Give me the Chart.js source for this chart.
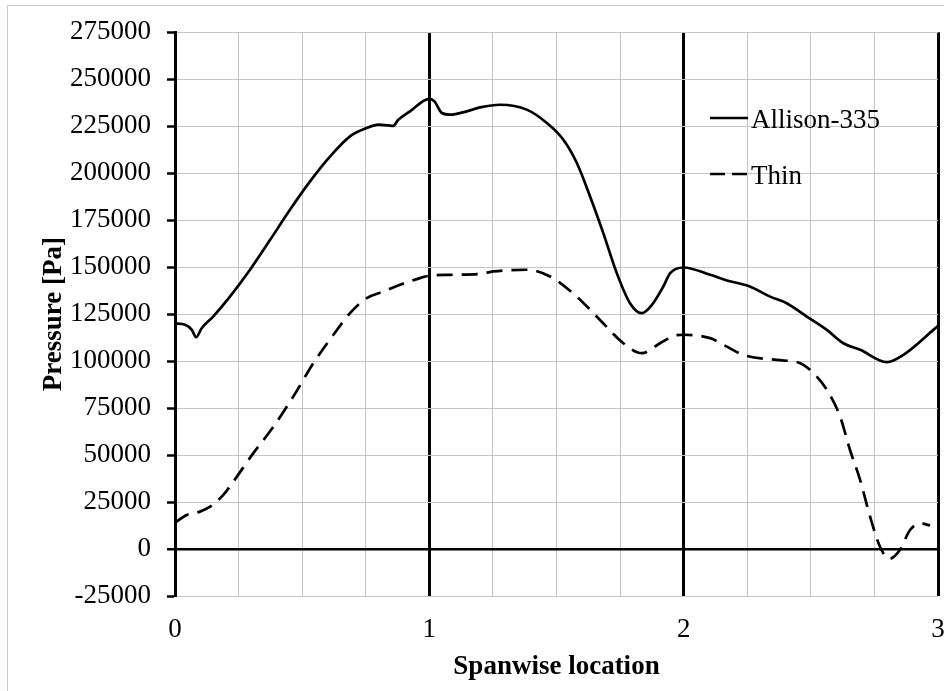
<!DOCTYPE html>
<html>
<head>
<meta charset="utf-8">
<script src="https://cdn.jsdelivr.net/npm/chart.js@4/dist/chart.umd.min.js"></script>
<style>
  html, body { margin: 0; padding: 0; background: #fff; }
  canvas { display: block; }
</style>
</head>
<body>
<canvas id="chart" width="944" height="691"></canvas>
<script>
// Spanwise pressure distribution
const allisonX = [0, 0.04, 0.066, 0.083, 0.105, 0.15, 0.216, 0.295, 0.374, 0.452, 0.531, 0.61, 0.688, 0.754, 0.8, 0.839, 0.858, 0.878, 0.924, 1.0, 1.02, 1.049, 1.081, 1.147, 1.2, 1.278, 1.383, 1.462, 1.527, 1.58, 1.632, 1.684, 1.737, 1.789, 1.835, 1.875, 1.92, 1.947, 2.0, 2.104, 2.17, 2.26, 2.34, 2.405, 2.484, 2.563, 2.628, 2.694, 2.799, 2.864, 2.982, 3.0];
const allisonY = [120000, 119300, 116600, 112700, 117500, 123700, 134300, 148600, 164500, 180500, 195600, 208900, 219600, 224000, 225800, 225400, 225200, 228400, 232900, 239500, 238200, 232000, 231100, 232900, 235000, 236400, 233800, 226700, 217800, 205400, 187600, 168100, 146800, 130800, 125500, 129900, 139700, 146800, 149800, 145900, 142900, 139700, 134300, 130800, 123700, 116600, 109500, 106000, 99400, 103300, 116600, 118700];

const thinX = [0, 0.046, 0.098, 0.138, 0.19, 0.229, 0.308, 0.387, 0.465, 0.544, 0.623, 0.688, 0.754, 0.819, 0.885, 0.95, 1.0, 1.081, 1.2, 1.252, 1.383, 1.475, 1.58, 1.671, 1.763, 1.835, 1.907, 1.96, 2.0, 2.104, 2.17, 2.235, 2.366, 2.458, 2.51, 2.563, 2.615, 2.654, 2.694, 2.733, 2.772, 2.808, 2.85, 2.89, 2.93, 2.969];
const thinY = [14000, 18100, 19900, 22500, 28800, 35800, 51000, 65100, 81100, 98900, 114000, 125500, 133500, 137000, 140600, 143600, 145400, 145900, 146400, 147700, 148600, 145000, 134300, 121900, 109500, 104200, 109500, 113400, 114000, 112200, 107700, 103300, 100600, 98900, 93600, 84700, 70500, 52700, 36700, 17200, 1200, -5200, -500, 10100, 13600, 12600];

const seriesLabels = ['Allison-335', 'Thin'];
const xTicks = { min: 0, max: 3, step: 0.25 };
const yTicks = { min: -25000, max: 275000, step: 25000 };

const FONT = "'Liberation Serif', 'Times New Roman', serif";
const GRID_GRAY = '#c4c4c4';

const toPoints = (xs, ys) => xs.map((x, i) => ({ x, y: ys[i] }));

// outer frame of the picture (only left and top edges are visible)
const framePlugin = {
  id: 'frame',
  beforeDraw(chart) {
    const ctx = chart.ctx;
    ctx.save();
    ctx.strokeStyle = '#c8c8c8';
    ctx.lineWidth = 1;
    ctx.strokeRect(7.5, 5.5, chart.width + 10, chart.height + 10);
    ctx.restore();
  },
};

// legend inside the plot, lines with labels
const legendPlugin = {
  id: 'insideLegend',
  afterDraw(chart) {
    const ctx = chart.ctx;
    const rows = [118, 174];
    ctx.save();
    chart.data.datasets.forEach((ds, i) => {
      const y = rows[i];
      ctx.strokeStyle = '#000';
      ctx.lineWidth = 2.5;
      ctx.setLineDash(ds.borderDash ? [15, 7] : []);
      ctx.beginPath();
      ctx.moveTo(710, y);
      ctx.lineTo(748, y);
      ctx.stroke();
      ctx.setLineDash([]);
      ctx.fillStyle = '#000';
      ctx.font = `27px ${FONT}`;
      ctx.textBaseline = 'middle';
      ctx.fillText(ds.label, 751, y + 3);
    });
    ctx.restore();
  },
};

new Chart(document.getElementById('chart'), {
  type: 'scatter',
  data: {
    datasets: [
      {
        label: seriesLabels[0],
        data: toPoints(allisonX, allisonY),
        showLine: true,
        borderColor: '#000',
        borderWidth: 2.7,
        pointRadius: 0,
        cubicInterpolationMode: 'monotone',
      },
      {
        label: seriesLabels[1],
        data: toPoints(thinX, thinY),
        showLine: true,
        borderColor: '#000',
        borderWidth: 2.7,
        borderDash: [16, 9],
        pointRadius: 0,
        cubicInterpolationMode: 'monotone',
      },
    ],
  },
  options: {
    responsive: false,
    animation: false,
    layout: { padding: { top: 32, right: 6, left: 0, bottom: 0 } },
    plugins: { legend: { display: false }, tooltip: { enabled: false } },
    scales: {
      x: {
        type: 'linear',
        min: xTicks.min,
        max: xTicks.max,
        ticks: {
          stepSize: xTicks.step,
          padding: 18,
          maxRotation: 0,
          autoSkip: false,
          color: '#000',
          font: { family: FONT, size: 27 },
          callback: v => Number.isInteger(v) ? String(v) : '',
        },
        grid: {
          drawTicks: false,
          color: c => Number.isInteger(c.tick.value) ? '#000' : GRID_GRAY,
          lineWidth: c => Number.isInteger(c.tick.value) ? 3 : 1,
        },
        border: { display: false },
        title: {
          display: true,
          text: 'Spanwise location',
          color: '#000',
          font: { family: FONT, size: 27, weight: 'bold' },
          padding: { top: 0, bottom: 8 },
        },
        afterFit(scale) {
          scale.height = 95;
          scale.paddingLeft = 0;
          scale.paddingRight = 0;
        },
      },
      y: {
        min: yTicks.min,
        max: yTicks.max,
        ticks: {
          stepSize: yTicks.step,
          padding: 16,
          color: '#000',
          font: { family: FONT, size: 27 },
          callback: v => String(v),
        },
        grid: {
          tickLength: 8,
          tickColor: '#000',
          tickWidth: 2.5,
          color: c => c.tick.value === 0 ? '#000' : GRID_GRAY,
          lineWidth: c => c.tick.value === 0 ? 2.5 : 1,
        },
        border: { display: true, color: '#000', width: 3 },
        title: {
          display: true,
          text: 'Pressure [Pa]',
          color: '#000',
          font: { family: FONT, size: 27, weight: 'bold' },
          padding: { top: 38, bottom: 0 },
        },
        afterFit(scale) {
          scale.width = 175;
        },
      },
    },
  },
  plugins: [framePlugin, legendPlugin],
});
</script>
</body>
</html>
